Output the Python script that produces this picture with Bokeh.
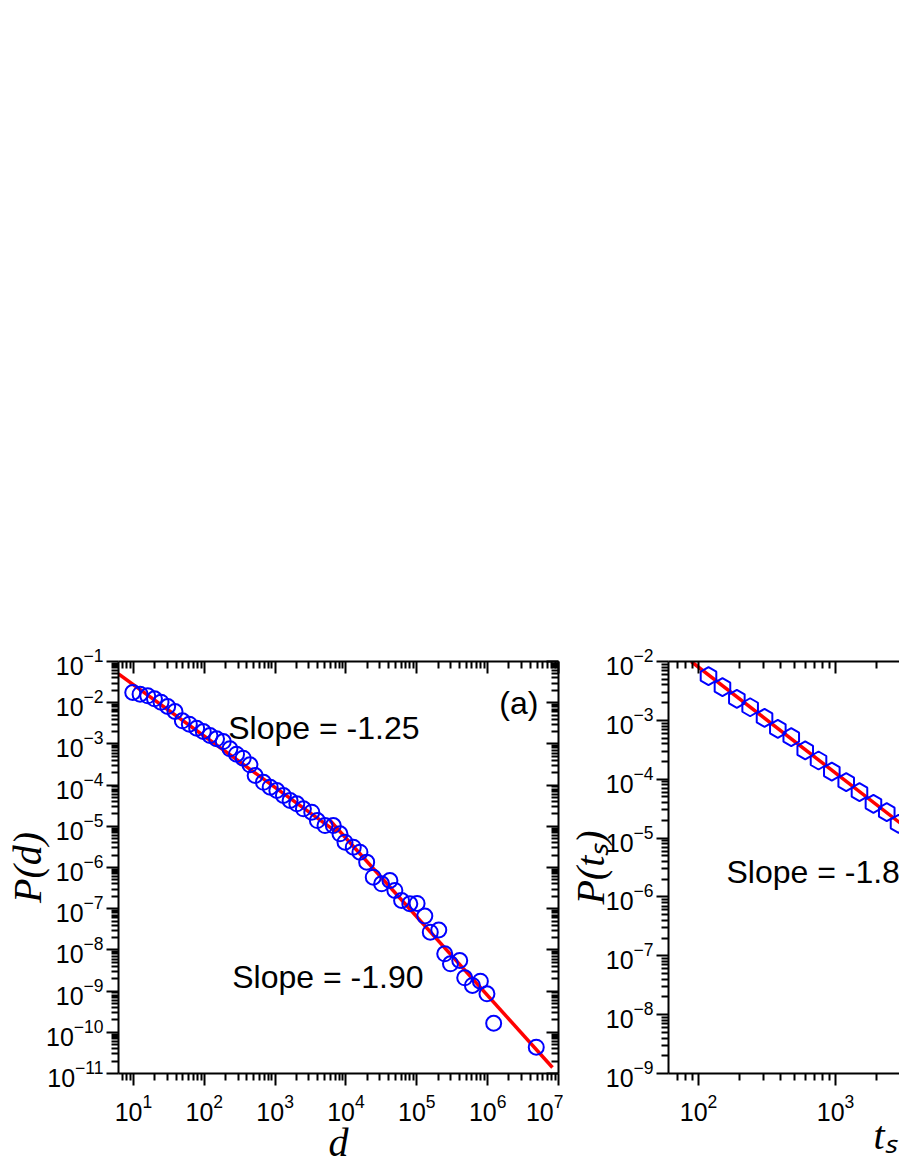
import math
from bokeh.plotting import figure
from bokeh.layouts import row
from bokeh.models import LogAxis, FixedTicker, Label, Range1d
from bokeh.embed import file_html
from bokeh.resources import INLINE

# ---------------- Panel (a): P(d) vs d ----------------
d_vals = [9.77, 12.4, 15.9, 19.8, 24.5, 30.4, 38.6, 49.0, 61.5, 78.0,
          96.8, 120.2, 148.9, 185.4, 230.1, 285.1, 354.0, 440.6, 522.4, 683.9,
          851.1, 1057, 1309, 1626, 2023, 2506, 3289, 3945, 5058, 6622,
          8222, 9683, 12680, 15740, 19590, 24270, 31840, 41690, 48980, 60950,
          79620, 100900, 129700, 154900, 204200, 247700, 298500, 403600, 474200, 609500,
          788900, 977200, 1216000, 4853000]
pd_vals = [1.77e-2, 1.61e-2, 1.47e-2, 1.24e-2, 1.03e-2, 8.09e-3, 6.11e-3, 3.64e-3, 3.01e-3, 2.40e-3,
           2.00e-3, 1.60e-3, 1.33e-3, 1.14e-3, 7.60e-4, 5.62e-4, 4.50e-4, 3.11e-4, 1.71e-4, 1.17e-4,
           8.89e-5, 7.40e-5, 5.60e-5, 4.23e-5, 3.52e-5, 2.66e-5, 2.20e-5, 1.38e-5, 1.04e-5, 1.04e-5,
           6.58e-6, 4.11e-6, 3.11e-6, 2.35e-6, 1.35e-6, 5.82e-7, 4.02e-7, 4.83e-7, 2.77e-7, 1.58e-7,
           1.32e-7, 1.34e-7, 6.65e-8, 2.69e-8, 3.04e-8, 8.04e-9, 4.60e-9, 5.53e-9, 2.10e-9, 1.37e-9,
           1.74e-9, 8.59e-10, 1.66e-10, 4.35e-11]
fit1_d = [6.15, 7400.0]
fit1_p = [5.02e-2, 7.19e-6]
fit2_d = [5960.0, 8.22e6]
fit2_p = [1.38e-5, 1.40e-11]

# ---------------- Panel (b): P(t_s) vs t_s ----------------
ts_vals = [118.3, 149.6, 190.5, 238.2, 303.4, 379.3, 475.3, 601.2, 751.6, 939.7,
           1197, 1496, 1892, 2366, 2884]
pts_vals = [5.62e-3, 3.66e-3, 2.32e-3, 1.67e-3, 1.10e-3, 7.19e-4, 5.18e-4, 3.08e-4, 2.08e-4, 1.35e-4,
            8.89e-5, 6.03e-5, 3.82e-5, 2.75e-5, 1.75e-5]
fitb_ts = [88.5, 3981.0]
fitb_p = [1.0e-2, 1.06e-5]

# tick decades
a_x_exps = [1, 2, 3, 4, 5, 6, 7]
a_y_exps = [-11, -10, -9, -8, -7, -6, -5, -4, -3, -2, -1]
b_x_exps = [2, 3, 4]
b_y_exps = [-9, -8, -7, -6, -5, -4, -3, -2]

LABEL_FONT = "Liberation Sans"
TITLE_FONT = "Liberation Serif"


def make_ticker(exps):
    major = [10.0 ** e for e in exps]
    minor = [m * 10.0 ** e for e in range(exps[0] - 1, exps[-1] + 1) for m in range(2, 10)]
    return FixedTicker(ticks=major, minor_ticks=minor)


def style_axis(ax, outward, labels):
    ax.axis_line_width = 2
    ax.axis_line_color = "black"
    ax.major_tick_line_width = 2
    ax.minor_tick_line_width = 2
    ax.major_tick_line_color = "black"
    ax.minor_tick_line_color = "black"
    if outward:
        ax.major_tick_out, ax.major_tick_in = 12, 0
        ax.minor_tick_out, ax.minor_tick_in = 7, 0
    else:
        ax.major_tick_out, ax.major_tick_in = 0, 12
        ax.minor_tick_out, ax.minor_tick_in = 0, 7
    if labels:
        ax.major_label_text_font = LABEL_FONT
        ax.major_label_text_font_size = "25px"
        ax.major_label_text_color = "black"
    else:
        ax.major_label_text_font_size = "0px"
        ax.major_label_text_color = None
    ax.axis_label_text_font = TITLE_FONT
    ax.axis_label_text_font_style = "italic"
    ax.axis_label_text_font_size = "40px"
    ax.axis_label_text_color = "black"


def build(xr, yr, xexps, yexps, frame_w, left, right, right_axis):
    p = figure(x_axis_type="log", y_axis_type="log",
               x_range=Range1d(*xr), y_range=Range1d(*yr),
               frame_width=frame_w, frame_height=412,
               min_border_left=left, min_border_right=right,
               min_border_top=661, min_border_bottom=90,
               output_backend="svg", toolbar_location=None)
    p.outline_line_color = None
    p.grid.visible = False
    p.background_fill_color = "white"
    p.border_fill_color = "white"
    bx = p.xaxis[0]
    by = p.yaxis[0]
    bx.ticker = make_ticker(xexps)
    by.ticker = make_ticker(yexps)
    style_axis(bx, True, True)
    style_axis(by, True, True)
    bx.major_label_standoff = 8
    by.major_label_standoff = 3
    top = LogAxis(ticker=make_ticker(xexps))
    style_axis(top, False, False)
    p.add_layout(top, "above")
    if right_axis:
        rgt = LogAxis(ticker=make_ticker(yexps))
        style_axis(rgt, False, False)
        p.add_layout(rgt, "right")
    return p, bx, by


def note(x, y, text, align="left"):
    return Label(x=x, y=y, text=text, text_font=LABEL_FONT, text_font_size="32px",
                 text_color="black", text_align=align, text_baseline="alphabetic")


# ---- panel (a)
p1, p1x, p1y = build((6.15, 1e7), (1e-11, 1e-1), a_x_exps, a_y_exps, 440, 118, 5, True)
p1.line(fit1_d, fit1_p, line_color="red", line_width=3.5)
p1.line(fit2_d, fit2_p, line_color="red", line_width=3.5)
p1.scatter(d_vals, pd_vals, marker="circle", size=15, fill_color=None,
           line_color="blue", line_width=2)
p1.add_layout(note(218, 2.37e-3, "Slope = -1.25"))
p1.add_layout(note(248, 2.14e-9, "Slope = -1.90"))
p1.add_layout(note(5.2e6, 9.57e-3, "(a)", "right"))
p1x.axis_label = "d"
p1x.axis_label_standoff = -4
p1y.axis_label = "P(d)"
p1y.axis_label_standoff = -7

# ---- panel (b)
p2, p2x, p2y = build((60.4, 10 ** 3.467), (1e-9, 1e-2), b_x_exps, b_y_exps, 231, 105, 0, False)
p2.line(fitb_ts, fitb_p, line_color="red", line_width=3.5)
p2.scatter(ts_vals, pts_vals, marker="hex", angle=math.pi / 6, size=18, fill_color=None,
           line_color="blue", line_width=2)
p2.add_layout(note(160, 2.70e-6, "Slope = -1.8"))
p2y.axis_label = "P(tₛ)"
p2y.axis_label_standoff = -10

# x-axis title of panel (b) sits off-centre (the panel continues past the page edge)
ts_title_pos = [2300]
ts_axis = LogAxis(ticker=FixedTicker(ticks=ts_title_pos, minor_ticks=[]),
                  major_label_overrides={ts_title_pos[0]: "tₛ"})
ts_axis.axis_line_color = None
ts_axis.major_tick_line_color = None
ts_axis.minor_tick_line_color = None
ts_axis.major_tick_out = 0
ts_axis.major_tick_in = 0
ts_axis.major_label_text_font = TITLE_FONT
ts_axis.major_label_text_font_style = "italic"
ts_axis.major_label_text_font_size = "40px"
ts_axis.major_label_text_color = "black"
ts_axis.major_label_standoff = -11
p2.add_layout(ts_axis, "below")

layout = row(p1, p2)
open("out.html", "w").write(file_html(layout, INLINE))
